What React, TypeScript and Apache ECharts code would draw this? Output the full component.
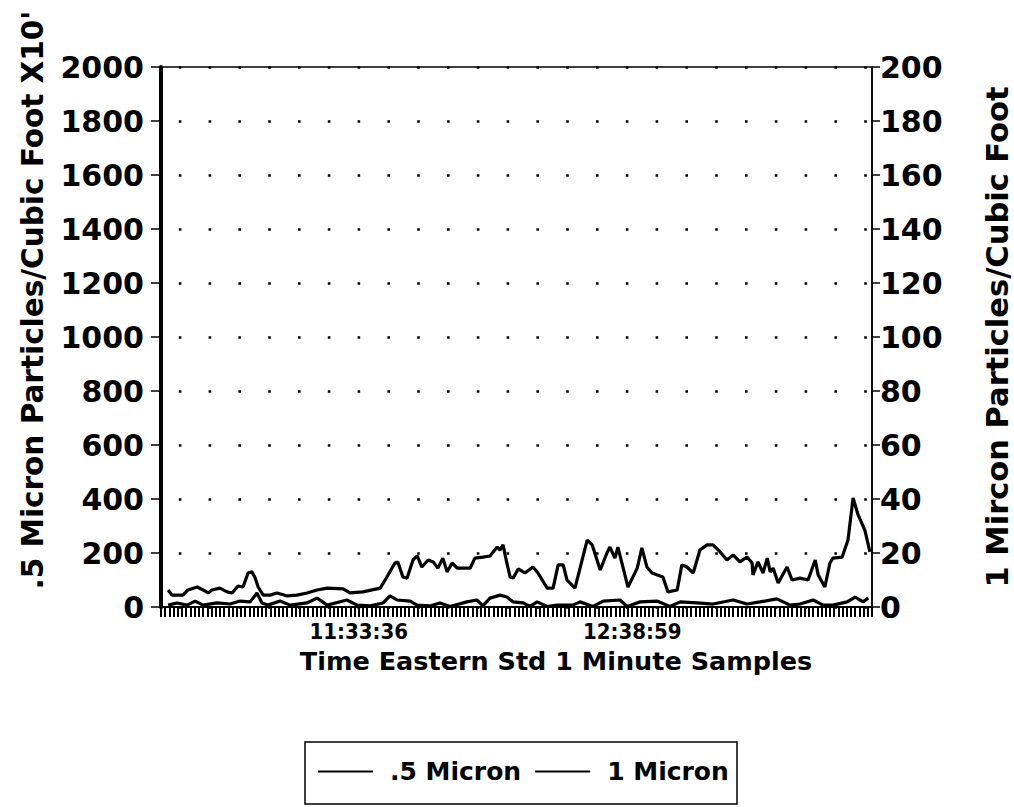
import React, { useEffect, useRef } from "react";
import * as echarts from "echarts";

// .5 Micron series (left axis): sample position, value
const halfMicronSample = [1.7, 2.6, 5.2, 6.4, 8.6, 10.0, 11.2, 12.1, 14.0, 15.7, 16.9, 18.3, 19.5, 20.7, 21.6, 22.3, 23.1, 24.3, 25.9, 27.6, 30.0, 32.3, 34.7, 37.1, 39.5, 43.3, 44.9, 48.0, 52.1, 53.7, 55.6, 56.3, 57.5, 58.5, 59.9, 60.9, 62.0, 63.5, 64.7, 65.8, 67.0, 68.0, 69.2, 70.4, 73.5, 74.6, 76.5, 78.2, 79.9, 80.6, 81.3, 82.2, 83.0, 83.7, 84.9, 86.5, 88.4, 89.6, 91.8, 93.2, 94.4, 95.6, 96.5, 98.4, 101.3, 102.5, 104.4, 106.0, 106.7, 107.9, 108.6, 111.0, 113.2, 114.3, 115.5, 116.7, 119.3, 120.5, 122.7, 123.8, 125.0, 126.5, 128.1, 129.8, 131.2, 132.9, 134.5, 136.0, 137.6, 139.3, 140.5, 140.7, 141.9, 143.1, 144.1, 144.8, 145.5, 146.7, 148.8, 150.0, 151.9, 153.8, 155.5, 156.2, 157.8, 159.0, 159.7, 161.9, 163.3, 164.5, 165.7, 167.3, 168.5];
const halfMicronValues = [63, 44, 44, 63, 74, 63, 52, 63, 70, 56, 52, 78, 74, 126, 130, 111, 74, 44, 44, 52, 41, 44, 52, 63, 70, 67, 52, 56, 70, 111, 163, 167, 111, 107, 174, 189, 148, 174, 167, 144, 181, 130, 163, 144, 144, 181, 185, 189, 222, 211, 230, 163, 111, 107, 141, 126, 148, 126, 70, 70, 156, 156, 100, 70, 248, 230, 137, 200, 222, 181, 222, 74, 144, 219, 148, 126, 111, 56, 63, 156, 148, 126, 211, 230, 230, 204, 174, 193, 167, 185, 163, 119, 167, 126, 181, 130, 144, 89, 148, 100, 107, 100, 174, 119, 74, 163, 181, 185, 248, 404, 341, 285, 204];

// 1 Micron series (right axis)
const oneMicronSample = [1.7, 3.8, 6.2, 8.1, 10.0, 13.3, 16.4, 18.8, 21.2, 22.8, 24.0, 25.4, 28.3, 30.7, 34.7, 37.1, 39.5, 44.2, 46.6, 49.7, 52.8, 54.4, 56.1, 59.2, 60.9, 63.9, 66.3, 68.7, 72.7, 75.1, 76.5, 78.2, 80.6, 82.2, 83.7, 86.1, 87.7, 89.4, 91.8, 94.1, 97.9, 99.6, 102.7, 105.1, 109.1, 110.8, 113.9, 117.9, 121.0, 123.4, 127.4, 131.2, 136.0, 139.3, 142.4, 146.4, 149.5, 151.9, 155.0, 157.4, 159.7, 163.1, 165.0, 166.9, 168.1];
const oneMicronValues = [0.7, 1.5, 0.7, 2.2, 0.7, 1.5, 1.1, 2.2, 1.9, 5.2, 1.5, 0.7, 2.2, 0.7, 1.5, 3.3, 0.7, 2.6, 0.7, 0.4, 1.5, 4.1, 2.6, 2.2, 0.7, 0.4, 1.5, 0.2, 1.9, 2.6, 0.4, 3.3, 4.4, 3.7, 1.9, 1.5, 0.2, 1.9, 0.2, 0.7, 0.7, 1.9, 0.2, 2.2, 2.6, 0.2, 1.9, 2.2, 0.2, 1.9, 1.5, 1.1, 2.6, 1.1, 1.9, 3.0, 0.7, 1.1, 2.6, 0.7, 0.7, 1.9, 3.7, 1.9, 3.3];

const timeTickValues = [47, 112];
const timeTickLabels = ["11:33:36", "12:38:59"];

const seriesNames = [".5 Micron", "1 Micron"];
const leftTitle = ".5 Micron Particles/Cubic Foot X10'";
const rightTitle = "1 Mircon Particles/Cubic Foot";
const xTitle = "Time Eastern Std 1 Minute Samples";

const FONT = "'DejaVu Sans', sans-serif";

function zip(xs: number[], ys: number[]) {
  const n = Math.min(xs.length, ys.length);
  const out: number[][] = [];
  for (let i = 0; i < n; i++) out.push([xs[i], ys[i]]);
  return out;
}

export default function App() {
  const ref = useRef<HTMLDivElement>(null);
  useEffect(() => {
    if (!ref.current) return;
    const chart = echarts.init(ref.current, undefined, { renderer: "svg" });
    const axisLabelStyle = {
      color: "#000",
      fontFamily: FONT,
      fontWeight: "bold" as const,
      fontSize: 30,
      formatter: (v: number) => String(v),
    };
    chart.setOption({
      animation: false,
      backgroundColor: "#fff",
      grid: {
        left: 161,
        right: 142,
        top: 67,
        bottom: 200,
        show: true,
        borderColor: "#000",
        borderWidth: 1.5,
      },
      legend: {
        left: 318,
        top: 759,
        data: seriesNames,
        icon: "rect",
        itemWidth: 55,
        itemHeight: 2,
        itemGap: 14,
        padding: 0,
        textStyle: {
          color: "#000",
          fontFamily: FONT,
          fontWeight: "bold",
          fontSize: 25,
          padding: [0, 0, 0, 12],
        },
      },
      xAxis: {
        type: "value",
        min: 0,
        max: 169,
        interval: 1,
        axisLine: { show: true, lineStyle: { color: "#000", width: 2 } },
        axisTick: { show: true, length: 10, lineStyle: { color: "#000", width: 2 } },
        splitLine: { show: false },
        axisLabel: {
          margin: 13,
          color: "#000",
          fontFamily: "'DejaVu Sans Condensed', 'DejaVu Sans', sans-serif",
          fontWeight: "bold",
          fontSize: 22,
          lineHeight: 22,
          formatter: (v: number) => {
            const k = timeTickValues.indexOf(Math.round(v));
            return k >= 0 && Math.abs(v - timeTickValues[k]) < 1e-6 ? timeTickLabels[k] : "";
          },
        },
      },
      yAxis: [
        {
          type: "value",
          min: 0,
          max: 2000,
          interval: 200,
          position: "left",
          axisLine: { show: true, lineStyle: { color: "#000", width: 4 } },
          axisTick: { show: true, length: 10, lineStyle: { color: "#000", width: 1.5 } },
          axisLabel: { ...axisLabelStyle, margin: 17 },
          splitLine: {
            show: true,
            lineStyle: { color: "#000", width: 2.6, type: [2.6, 27.2], dashOffset: 12 },
          },
        },
        {
          type: "value",
          min: 0,
          max: 200,
          interval: 20,
          position: "right",
          axisLine: { show: true, lineStyle: { color: "#000", width: 1.5 } },
          axisTick: { show: true, length: 8, lineStyle: { color: "#000", width: 1.5 } },
          axisLabel: { ...axisLabelStyle, margin: 8 },
          splitLine: { show: false },
        },
      ],
      series: [
        {
          name: seriesNames[0],
          type: "line",
          yAxisIndex: 0,
          data: zip(halfMicronSample, halfMicronValues),
          showSymbol: false,
          symbol: "none",
          itemStyle: { color: "#000" },
          lineStyle: { color: "#000", width: 3.2 },
        },
        {
          name: seriesNames[1],
          type: "line",
          yAxisIndex: 1,
          data: zip(oneMicronSample, oneMicronValues),
          showSymbol: false,
          symbol: "none",
          itemStyle: { color: "#000" },
          lineStyle: { color: "#000", width: 3.2 },
        },
      ],
      graphic: [
        {
          type: "text",
          x: 33,
          y: 300,
          rotation: Math.PI / 2,
          style: {
            text: leftTitle,
            fill: "#000",
            font: `bold 29.5px ${FONT}`,
            textAlign: "center",
            textVerticalAlign: "middle",
          },
        },
        {
          type: "text",
          x: 997,
          y: 337,
          rotation: Math.PI / 2,
          style: {
            text: rightTitle,
            fill: "#000",
            font: `bold 30.5px ${FONT}`,
            textAlign: "center",
            textVerticalAlign: "middle",
          },
        },
        {
          type: "text",
          x: 556,
          y: 661,
          style: {
            text: xTitle,
            fill: "#000",
            font: `bold 25.5px ${FONT}`,
            textAlign: "center",
            textVerticalAlign: "middle",
          },
        },
        {
          type: "rect",
          shape: { x: 305, y: 742, width: 432, height: 62 },
          style: { fill: "none", stroke: "#000", lineWidth: 1.5 },
        },
      ],
    });
    return () => chart.dispose();
  }, []);
  return (
    <div
      ref={ref}
      style={{ position: "fixed", left: 0, top: 0, width: 1014, height: 807, background: "#fff" }}
    />
  );
}
